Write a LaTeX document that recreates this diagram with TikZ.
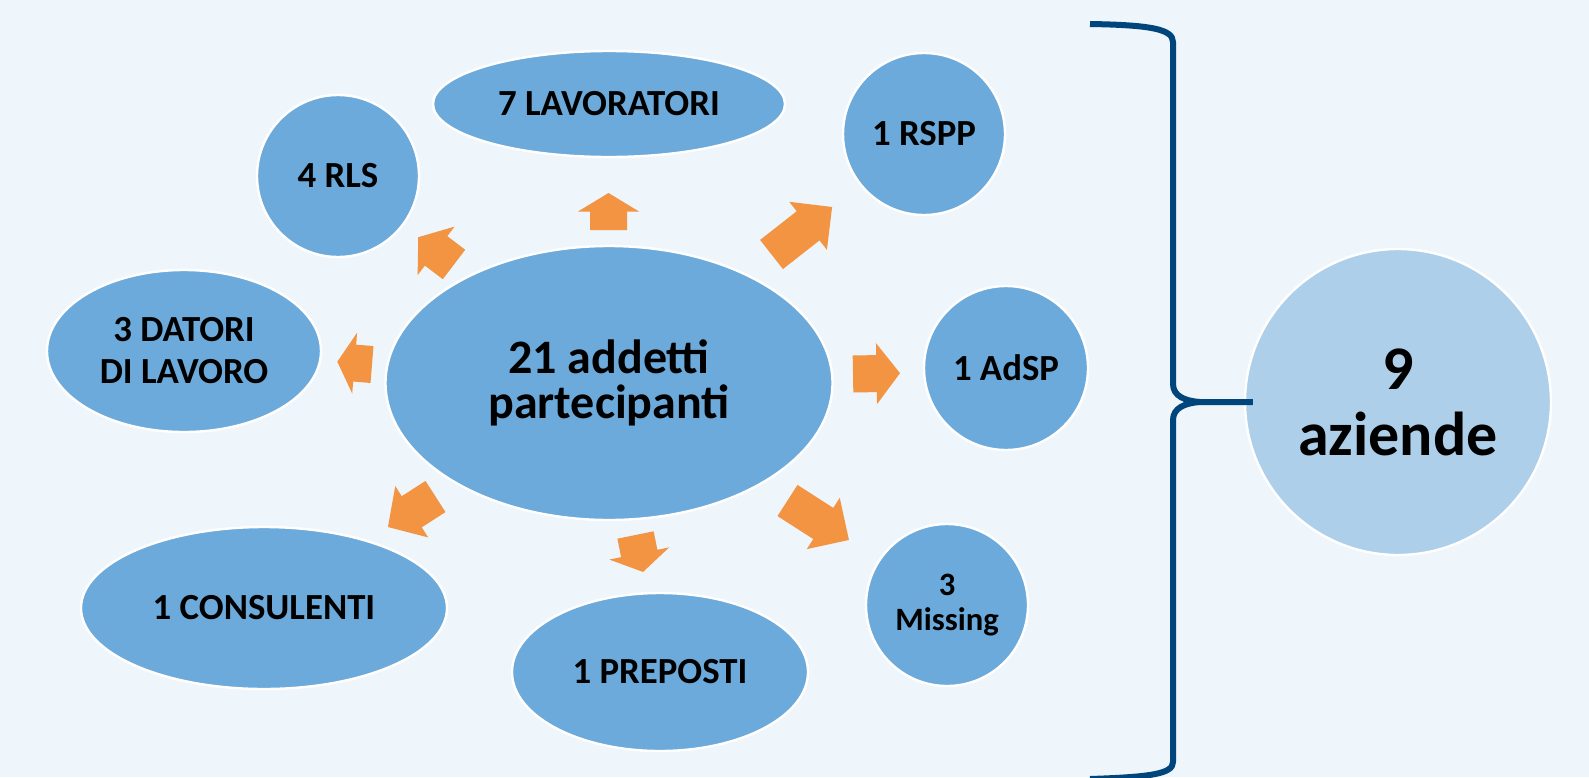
\documentclass[tikz,border=0pt]{standalone}
\usepackage{fontspec}
\setmainfont{Carlito}
\usetikzlibrary{shapes.geometric}
\definecolor{bgblue}{RGB}{238,245,251}
\definecolor{bubbleblue}{RGB}{108,170,219}
\definecolor{paleblue}{RGB}{173,207,234}
\definecolor{arrowfill}{RGB}{242,148,66}
\definecolor{bracenavy}{RGB}{0,69,124}

\begin{document}
\begin{tikzpicture}[
        x=0.5pt, y=-0.5pt,
        bubble/.style={ellipse, fill=bubbleblue, draw=white, line width=1.2pt,
            align=center, inner sep=0pt,
            font=\bfseries\fontsize{18.4}{21}\selectfont},
        dot/.style={bubble, circle},
        blockarrow/.style={fill=arrowfill},
        brace/.style={draw=bracenavy, line width=3pt, line join=round}
    ]
    % base x, base y, angle, length
    \def\barrow#1#2#3#4{%
        \pgfmathsetmacro{\hd}{#4-0.5*min(#4,61)}
        \fill[blockarrow, shift={(#1,#2)}, rotate=#3]
            (0,-18.5) -- (\hd,-18.5) -- (\hd,-30.5) -- (#4,0)
            -- (\hd,30.5) -- (\hd,18.5) -- (0,18.5) -- cycle;}

    \fill[bgblue] (0,0) rectangle (1589,777);
    \useasboundingbox (0,0) rectangle (1589,777);

    \node[bubble, minimum width=223.5pt, minimum height=137pt,
        font=\bfseries\fontsize{24}{22.5}\selectfont] (centre) at (609,383) {21 addetti\\partecipanti};
    \node[bubble, minimum width=176pt, minimum height=53pt] (lav) at (609,104) {7 LAVORATORI};
    \node[dot, minimum size=81pt] (rls) at (338,176) {4 RLS};
    \node[dot, minimum size=81pt] (rspp) at (924,134) {1 RSPP};
    \node[bubble, minimum width=137pt, minimum height=81pt] (datori) at (184,351) {3 DATORI\\DI LAVORO};
    \node[dot, minimum size=82pt] (adsp) at (1006,368) {1 AdSP};
    \node[bubble, minimum width=183pt, minimum height=81pt] (cons) at (264,608) {1 CONSULENTI};
    \node[bubble, minimum width=148pt, minimum height=79pt] (prep) at (660,672) {1 PREPOSTI};
    \node[dot, minimum size=81pt,
        font=\bfseries\fontsize{16.3}{17.5}\selectfont] (missing) at (947,605) {3\\Missing};
    \node[dot, fill=paleblue, minimum size=153pt,
        font=\bfseries\fontsize{31}{33}\selectfont] (aziende) at (1398,402) {9\\aziende};

    \barrow{608.5}{230}{90}{37}
    \barrow{454}{264.5}{142.7}{45}
    \barrow{372}{364.5}{175.4}{34.8}
    \barrow{771.5}{254.5}{38.1}{77}
    \barrow{853}{374}{1}{47}
    \barrow{435.5}{496.5}{212.7}{56.5}
    \barrow{635.5}{535}{-78.5}{37.7}
    \barrow{787.5}{500.5}{-32.7}{73}

    \coordinate (cusp) at (1200,402);
    \draw[brace] (1090,24) .. controls (1150,25) and (1173,29) .. (1173,42)
        -- (1173,384) .. controls (1173,396) and (1185,401) .. (cusp)
        -- ([xshift=4.5pt]aziende.west);
    \draw[brace] (cusp) .. controls (1185,403) and (1173,408) .. (1173,420)
        -- (1173,762) .. controls (1173,774) and (1150,777) .. (1090,779);
\end{tikzpicture}
\end{document}
